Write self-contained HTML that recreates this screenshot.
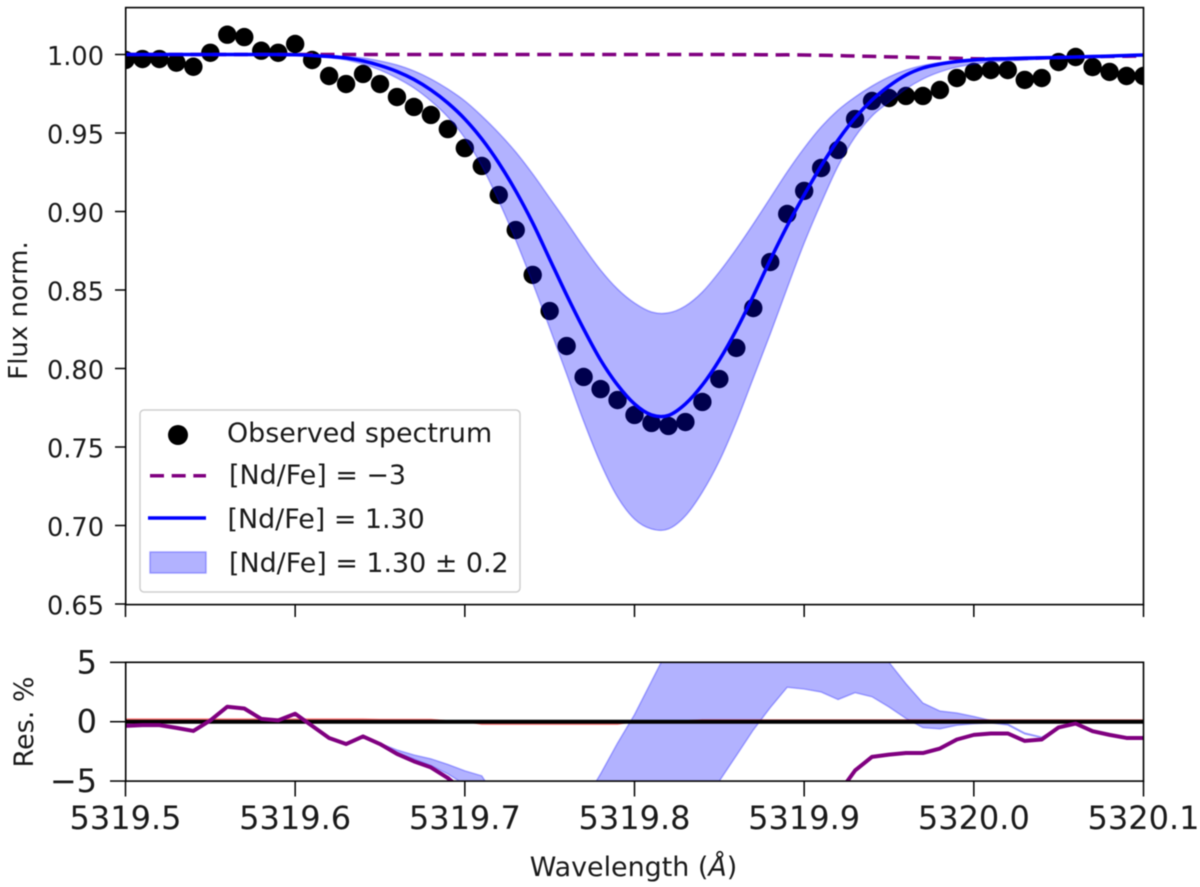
<!DOCTYPE html>
<html>
<head>
<meta charset="utf-8">
<title>Nd line fit</title>
<style>
html,body{margin:0;padding:0;background:#fff;width:1200px;height:887px;overflow:hidden}
svg{display:block;filter:blur(0.5px)}
text{font-family:"DejaVu Sans","Liberation Sans",sans-serif;fill:#1a1a1a}
</style>
</head>
<body>
<svg id="chart" width="1200" height="887" viewBox="0 0 1200 887" xmlns="http://www.w3.org/2000/svg">
  <defs>
    <clipPath id="clip-main"><rect x="125.5" y="7.5" width="1018" height="597"/></clipPath>
    <clipPath id="clip-res"><rect x="125.5" y="662.3" width="1018" height="118.7"/></clipPath>
  </defs>
  <g id="main-marks" clip-path="url(#clip-main)"></g>
  <g id="res-marks" clip-path="url(#clip-res)"></g>
  <g id="axes"></g>

  <text x="27" y="310.5" font-size="26" text-anchor="middle" transform="rotate(-90 27 310.5)">Flux norm.</text>
  <text x="33" y="722" font-size="27" text-anchor="middle" transform="rotate(-90 33 722)">Res. %</text>
  <text x="633.5" y="876" font-size="26.9" text-anchor="middle">Wavelength (<tspan font-style="italic">Å</tspan>)</text>

  <g>
    <rect x="140" y="410" width="380" height="182" rx="4" ry="4" fill="#fff" fill-opacity="0.8" stroke="#cfcfcf" stroke-width="1.5"/>
    <circle cx="178" cy="435" r="10" fill="#000"/>
    <text x="227" y="442" font-size="26.9">Observed spectrum</text>
    <line x1="150" y1="475.7" x2="206" y2="475.7" stroke="#800080" stroke-width="3.5" stroke-dasharray="14 7.67"/>
    <text x="229" y="484" font-size="26.9">[Nd/Fe] = −3</text>
    <line x1="148" y1="518" x2="206" y2="518" stroke="#0000ff" stroke-width="3.5"/>
    <text x="227.5" y="528" font-size="26.9">[Nd/Fe] = 1.30</text>
    <rect x="150" y="552" width="56" height="21" fill="#0000ff" fill-opacity="0.3" stroke="#0000ff" stroke-opacity="0.3" stroke-width="1.5"/>
    <text x="229" y="572" font-size="26.9">[Nd/Fe] = 1.30 ± 0.2</text>
  </g>
</svg>
<script>
var wavelengthStart = 5319.5;
var wavelengthStep = 0.01;

var observedFlux = [0.9965,0.9971,0.9971,0.9948,0.9922,1.0011,1.0126,1.0111,1.0024,1.0011,1.0067,0.9965,0.9863,0.9812,0.9876,0.9812,0.9729,0.9666,0.9615,0.9525,0.9404,0.9290,0.9105,0.8882,0.8596,0.8366,0.8143,0.7946,0.7869,0.7799,0.7704,0.7653,0.7634,0.7659,0.7787,0.7933,0.8131,0.8385,0.8678,0.8984,0.9131,0.9277,0.9392,0.9589,0.9704,0.9723,0.9736,0.9736,0.9774,0.9850,0.9889,0.9901,0.9901,0.9838,0.9850,0.9952,0.9984,0.9920,0.9889,0.9863,0.9863];

var modelFlux = [1,1,1,1,1,1,1,1,1,1,0.9998,0.9994,0.9987,0.9978,0.9959,0.9930,0.9892,0.9841,0.9774,0.9691,0.9589,0.9462,0.9309,0.9131,0.8927,0.8697,0.8468,0.8252,0.8054,0.7895,0.7774,0.7704,0.7701,0.7774,0.7895,0.8054,0.8245,0.8462,0.8691,0.8908,0.9105,0.9290,0.9455,0.9596,0.9710,0.9799,0.9869,0.9914,0.9939,0.9955,0.9965,0.9971,0.9974,0.9977,0.9979,0.9981,0.9984,0.9987,0.9990,0.9994,0.9997];

var bandUpperFlux = [1,1,1,1,1,1,1,1,1,1,0.9998,0.9997,0.9994,0.9987,0.9978,0.9959,0.9933,0.9895,0.9844,0.9780,0.9704,0.9608,0.9500,0.9379,0.9239,0.9086,0.8933,0.8774,0.8627,0.8506,0.8417,0.8360,0.8354,0.8398,0.8487,0.8615,0.8761,0.8920,0.9086,0.9252,0.9404,0.9538,0.9646,0.9729,0.9799,0.9857,0.9901,0.9930,0.9949,0.9962,0.9971,0.9978,0.9981,0.9984,0.9985,0.9987,0.9990,0.9994,0.9997,0.9997,0.9997];

var bandLowerFlux = [1,1,1,1,1,1,1,1,1,1,0.9997,0.9990,0.9981,0.9965,0.9939,0.9901,0.9850,0.9787,0.9704,0.9602,0.9468,0.9290,0.9067,0.8818,0.8545,0.8258,0.7965,0.7666,0.7398,0.7182,0.7041,0.6978,0.6978,0.7061,0.7213,0.7411,0.7659,0.7939,0.8220,0.8513,0.8799,0.9054,0.9290,0.9475,0.9608,0.9697,0.9780,0.9844,0.9889,0.9920,0.9939,0.9952,0.9959,0.9965,0.9971,0.9975,0.9978,0.9984,0.9990,0.9994,0.9997];

var noNdFlux = [1,1,1,1,1,1,1,1,1,1,1,1,1,1,1,1,1,1,1,1,1,1,1,1,1,1,1,1,1,1,1,1,1,1,1,1,0.9999,0.9999,0.9998,0.9998,0.9997,0.9995,0.9993,0.9990,0.9988,0.9985,0.9983,0.9980,0.9978,0.9976,0.9973,0.9972,0.9973,0.9975,0.9978,0.9981,0.9984,0.9986,0.9988,0.9989,0.9990];

var residualNoNd = [-0.35,-0.29,-0.29,-0.52,-0.78,0.11,1.26,1.11,0.24,0.11,0.67,-0.35,-1.37,-1.88,-1.24,-1.88,-2.71,-3.34,-3.85,-4.75,-5.96,-7.1,-8.95,-11.18,-14.04,-16.34,-18.57,-20.54,-21.31,-22.01,-22.96,-23.47,-23.66,-23.41,-22.13,-20.67,-18.69,-16.15,-13.22,-10.16,-8.69,-7.23,-6.08,-4.11,-2.96,-2.77,-2.64,-2.64,-2.26,-1.5,-1.11,-0.99,-0.99,-1.62,-1.5,-0.48,-0.16,-0.8,-1.11,-1.37,-1.37];

var residualBandHigh = [-0.35,-0.29,-0.29,-0.52,-0.78,0.11,1.26,1.11,0.24,0.11,0.67,-0.35,-1.37,-1.88,-1.24,-1.82,-2.38,-2.8,-3.13,-3.6,-4.14,-4.56,-6.8,-8.5,-10,-10.5,-9.5,-6.8,-4.4,-1.8,0.6,3.4,6.2,8,9,9.5,10,11,12,12,11,10.5,10,9,7,5,3.2,1.57,0.9,0.73,0.44,0.1,-0.2,-0.95,-1.3,-0.48,-0.16,-0.8,-1.11,-1.37,-1.37];

var residualBandLow = [-0.35,-0.29,-0.29,-0.52,-0.78,0.11,1.26,1.11,0.24,0.11,0.67,-0.35,-1.37,-1.88,-1.24,-1.88,-2.6,-3.15,-3.7,-4.4,-5.3,-7,-9,-12,-15,-18,-20,-22,-24,-25,-25,-24,-18,-12,-9.5,-5,-2.86,-0.7,1.18,2.9,2.75,2.5,1.87,2.45,2.1,1.24,0.27,-0.5,-0.6,-0.3,-0.17,-0.1,-0.28,-1.03,-1.35,-0.5,-0.16,-0.8,-1.11,-1.37,-1.37];

var residualModel = [0.2,0.2,0.2,0.2,0.2,0.2,0.2,0.2,0.2,0.2,0.2,0.2,0.2,0.2,0.2,0.16,0.16,0.16,0.16,0.05,0.05,-0.18,-0.18,-0.18,-0.18,-0.18,-0.18,-0.18,-0.18,-0.18,0.05,0.05,0.05,0.05,0.12,0.12,0.12,0.12,0.12,0.12,0.12,0.12,0.12,0.12,0.12,0.12,0.12,0.12,0.12,0.12,0.12,0.12,0.12,0.12,0.12,0.12,0.12,0.12,0.12,0.12,0.12];

var xTickValues = [5319.5,5319.6,5319.7,5319.8,5319.9,5320.0,5320.1];
var xTickLabels = ["5319.5","5319.6","5319.7","5319.8","5319.9","5320.0","5320.1"];
var yTickValues = [1.00,0.95,0.90,0.85,0.80,0.75,0.70,0.65];
var yTickLabels = ["1.00","0.95","0.90","0.85","0.80","0.75","0.70","0.65"];
var resTickValues = [5,0,-5];
var resTickLabels = ["5","0","−5"];

var NS = "http://www.w3.org/2000/svg";
function xScale(w){ return 125.5 + (w - 5319.5) / 0.6 * 1018; }
function yMain(v){ return 54.5 + (1 - v) * 1570; }
function yRes(v){ return 721.7 - Math.max(-12, Math.min(12, v)) * 11.87; }
function wl(i){ return wavelengthStart + i * wavelengthStep; }

function make(tag, parent, attrs){
  var el = document.createElementNS(NS, tag);
  for (var k in attrs) el.setAttribute(k, attrs[k]);
  parent.appendChild(el);
  return el;
}
function pointsOf(values, yf){
  return values.map(function(v, i){ return [xScale(wl(i)), yf(v)]; });
}
function smoothSegments(p){
  var d = "";
  for (var i = 0; i < p.length - 1; i++){
    var a = p[Math.max(i - 1, 0)], b = p[i], c = p[i + 1], e = p[Math.min(i + 2, p.length - 1)];
    d += "C" + (b[0] + (c[0] - a[0]) / 6).toFixed(2) + " " + (b[1] + (c[1] - a[1]) / 6).toFixed(2) + " " +
         (c[0] - (e[0] - b[0]) / 6).toFixed(2) + " " + (c[1] - (e[1] - b[1]) / 6).toFixed(2) + " " +
         c[0].toFixed(2) + " " + c[1].toFixed(2);
  }
  return d;
}
function smoothLine(values, yf){
  var p = pointsOf(values, yf);
  return "M" + p[0][0].toFixed(2) + " " + p[0][1].toFixed(2) + smoothSegments(p);
}
function straightLine(values, yf){
  return pointsOf(values, yf).map(function(q, i){ return (i ? "L" : "M") + q[0].toFixed(2) + " " + q[1].toFixed(2); }).join("");
}
function smoothBand(high, low, yf){
  var a = pointsOf(high, yf), b = pointsOf(low, yf).reverse();
  return "M" + a[0][0].toFixed(2) + " " + a[0][1].toFixed(2) + smoothSegments(a) +
         "L" + b[0][0].toFixed(2) + " " + b[0][1].toFixed(2) + smoothSegments(b) + "Z";
}
function straightBand(high, low, yf){
  var a = pointsOf(high, yf), b = pointsOf(low, yf).reverse();
  return a.concat(b).map(function(q, i){ return (i ? "L" : "M") + q[0].toFixed(2) + " " + q[1].toFixed(2); }).join("") + "Z";
}

var mainG = document.getElementById("main-marks");
var resG = document.getElementById("res-marks");
var axesG = document.getElementById("axes");

observedFlux.forEach(function(v, i){
  var dot = make("circle", mainG, {cx: xScale(wl(i)), cy: yMain(v), r: 9.2, fill: "#000"});
  
  
});

var noNdLine = make("path", mainG, {d: smoothLine(noNdFlux, yMain), fill: "none", stroke: "#800080", "stroke-width": 3.5, "stroke-dasharray": "14 7.67"});



var band = make("path", mainG, {d: smoothBand(bandUpperFlux, bandLowerFlux, yMain), fill: "#0000ff", "fill-opacity": 0.3, stroke: "#0000ff", "stroke-opacity": 0.3, "stroke-width": 1.5});



var modelLine = make("path", mainG, {d: smoothLine(modelFlux, yMain), fill: "none", stroke: "#0000ff", "stroke-width": 3.5});



var resBand = make("path", resG, {d: straightBand(residualBandHigh, residualBandLow, yRes), fill: "#0000ff", "fill-opacity": 0.3, stroke: "#0000ff", "stroke-opacity": 0.3, "stroke-width": 1.5});



var resRed = make("path", resG, {d: straightLine(residualModel, yRes), fill: "none", stroke: "#ff0000", "stroke-opacity": 0.55, "stroke-width": 2});



var zeroLine = make("line", resG, {x1: 125.5, x2: 1143.5, y1: yRes(0), y2: yRes(0), stroke: "#000", "stroke-width": 4});



var resPurple = make("path", resG, {d: straightLine(residualNoNd, yRes), fill: "none", stroke: "#800080", "stroke-width": 4, "stroke-linejoin": "round"});



var mainFrame = make("rect", axesG, {x: 125.7, y: 7.6, width: 1017.8, height: 597, fill: "none", stroke: "#000", "stroke-width": 1.6});



var resFrame = make("rect", axesG, {x: 125.7, y: 662.3, width: 1017.8, height: 118.8, fill: "none", stroke: "#000", "stroke-width": 1.6});



yTickValues.forEach(function(v, i){
  var y = yMain(v);
  var t = make("line", axesG, {x1: 115, x2: 125.7, y1: y, y2: y, stroke: "#000", "stroke-width": 1.5});
  
  
  var l = make("text", axesG, {x: 104, y: y + 10.5, "font-size": 25.6, "text-anchor": "end"});
  l.textContent = yTickLabels[i];
  
  
});

resTickValues.forEach(function(v, i){
  var y = yRes(v);
  var t = make("line", axesG, {x1: 110, x2: 125.7, y1: y, y2: y, stroke: "#000", "stroke-width": 1.5});
  
  
  var l = make("text", axesG, {x: 97, y: y + 11, "font-size": 32, "text-anchor": "end"});
  l.textContent = resTickLabels[i];
  
  
});

xTickValues.forEach(function(v, i){
  var x = xScale(v);
  var t1 = make("line", axesG, {x1: x, x2: x, y1: 604.5, y2: 617, stroke: "#000", "stroke-width": 1.5});
  
  
  var t2 = make("line", axesG, {x1: x, x2: x, y1: 781, y2: 796.5, stroke: "#000", "stroke-width": 1.5});
  
  
  var l = make("text", axesG, {x: x, y: 829, "font-size": 32, "text-anchor": "middle"});
  l.textContent = xTickLabels[i];
  
  
});
</script>
</body>
</html>
